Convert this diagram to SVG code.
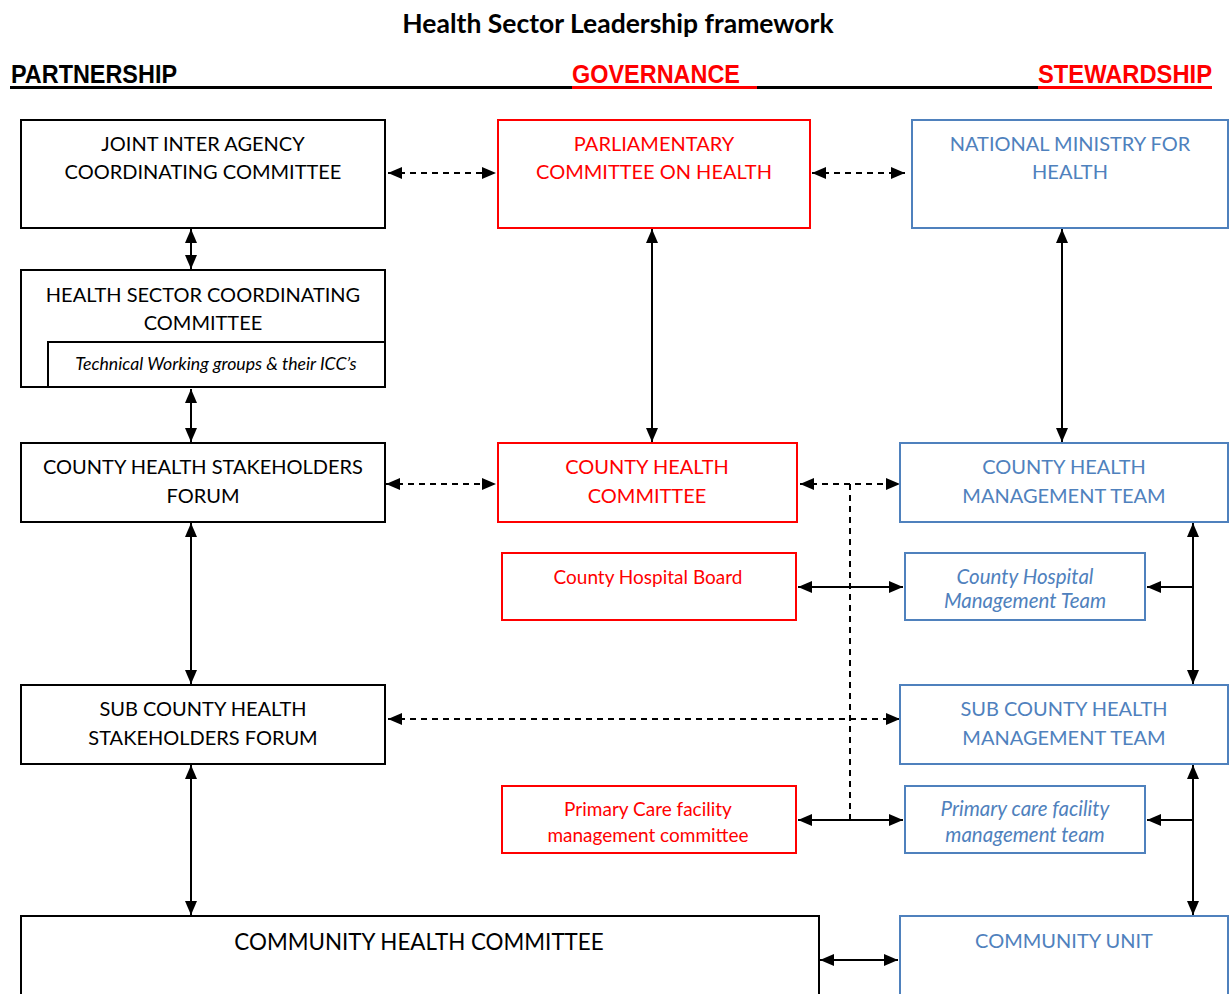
<svg xmlns="http://www.w3.org/2000/svg" width="1229" height="994" viewBox="0 0 1229 994">
<style>
text{font-family:Lato,"Liberation Sans",sans-serif;text-anchor:middle}
.t{font-size:20px}
.s{font-size:19px}
.si{font-size:20.5px;font-style:italic}
.i{font-style:italic}
.k{fill:#000}
.r{fill:#FF0000}
.b{fill:#4F81BD}
.bk{fill:#fff;stroke:#000;stroke-width:2}
.br{fill:#fff;stroke:#FF0000;stroke-width:2}
.bb{fill:#fff;stroke:#4F81BD;stroke-width:2}
.c{stroke:#000;stroke-width:2;fill:none}
.d{stroke-dasharray:6 5}
.h{font-family:"Liberation Sans",sans-serif;font-weight:bold;font-size:25px;text-anchor:start}
</style>
<defs>
<marker id="a" viewBox="0 0 14 12" refX="14" refY="6" markerWidth="14" markerHeight="12" markerUnits="userSpaceOnUse" orient="auto-start-reverse"><path d="M0,0L14,6L0,12z" fill="#000"/></marker>
</defs>
<rect width="1229" height="994" fill="#fff"/>
<text x="618" y="33" style="font-family:Lato,'Liberation Sans',sans-serif;font-weight:bold;font-size:26.5px">Health Sector Leadership framework</text>
<g id="header">
<text x="11" y="83" class="h k" textLength="166" lengthAdjust="spacingAndGlyphs">PARTNERSHIP</text>
<text x="572" y="83" class="h r" textLength="168" lengthAdjust="spacingAndGlyphs">GOVERNANCE</text>
<text x="1038" y="83" class="h r" textLength="174" lengthAdjust="spacingAndGlyphs">STEWARDSHIP</text>
<rect x="10" y="86" width="562" height="3" fill="#000"/>
<rect x="572" y="86" width="185" height="3" fill="#FF0000"/>
<rect x="757" y="86" width="281" height="3" fill="#000"/>
<rect x="1038" y="86" width="174" height="3" fill="#FF0000"/>
</g>
<g id="connectors">
<line class="c d" x1="388" y1="173" x2="496" y2="173" marker-start="url(#a)" marker-end="url(#a)"/>
<line class="c d" x1="812" y1="173" x2="905" y2="173" marker-start="url(#a)" marker-end="url(#a)"/>
<line class="c" x1="191" y1="229" x2="191" y2="269" marker-start="url(#a)" marker-end="url(#a)"/>
<line class="c" x1="191" y1="389" x2="191" y2="442" marker-start="url(#a)" marker-end="url(#a)"/>
<line class="c" x1="652" y1="229" x2="652" y2="442" marker-start="url(#a)" marker-end="url(#a)"/>
<line class="c" x1="1062" y1="229" x2="1062" y2="442" marker-start="url(#a)" marker-end="url(#a)"/>
<line class="c d" x1="386" y1="484" x2="496" y2="484" marker-start="url(#a)" marker-end="url(#a)"/>
<line class="c d" x1="800" y1="484" x2="900" y2="484" marker-start="url(#a)" marker-end="url(#a)"/>
<line class="c d" x1="850" y1="484" x2="850" y2="820"/>
<line class="c" x1="798" y1="587" x2="903" y2="587" marker-start="url(#a)" marker-end="url(#a)"/>
<line class="c" x1="1193" y1="523" x2="1193" y2="684" marker-start="url(#a)" marker-end="url(#a)"/>
<line class="c" x1="1193" y1="587" x2="1147" y2="587" marker-end="url(#a)"/>
<line class="c" x1="191" y1="523" x2="191" y2="684" marker-start="url(#a)" marker-end="url(#a)"/>
<line class="c d" x1="388" y1="719" x2="900" y2="719" marker-start="url(#a)" marker-end="url(#a)"/>
<line class="c" x1="1193" y1="765" x2="1193" y2="915" marker-start="url(#a)" marker-end="url(#a)"/>
<line class="c" x1="1193" y1="820" x2="1147" y2="820" marker-end="url(#a)"/>
<line class="c" x1="798" y1="820" x2="903" y2="820" marker-start="url(#a)" marker-end="url(#a)"/>
<line class="c" x1="191" y1="765" x2="191" y2="915" marker-start="url(#a)" marker-end="url(#a)"/>
<line class="c" x1="820" y1="960" x2="898" y2="960" marker-start="url(#a)" marker-end="url(#a)"/>
</g>
<g id="jiacc"><rect class="bk" x="21" y="120" width="364" height="108"/><text class="t k" x="203" y="151">JOINT INTER AGENCY</text><text class="t k" x="203" y="179">COORDINATING COMMITTEE</text></g>
<g id="pch"><rect class="br" x="498" y="120" width="312" height="108"/><text class="t r" x="654" y="151">PARLIAMENTARY</text><text class="t r" x="654" y="179">COMMITTEE ON HEALTH</text></g>
<g id="nmh"><rect class="bb" x="912" y="120" width="316" height="108"/><text class="t b" x="1070" y="151">NATIONAL MINISTRY FOR</text><text class="t b" x="1070" y="179">HEALTH</text></g>
<g id="hscc"><rect class="bk" x="21" y="270" width="364" height="117"/><text class="t k" x="203" y="302">HEALTH SECTOR COORDINATING</text><text class="t k" x="203" y="330">COMMITTEE</text>
<rect class="bk" x="48" y="342" width="337" height="45"/><text class="k i" style="font-size:17.7px" x="216" y="370">Technical Working groups &amp; their ICC’s</text></g>
<g id="chsf"><rect class="bk" x="21" y="443" width="364" height="79"/><text class="t k" x="203" y="474">COUNTY HEALTH STAKEHOLDERS</text><text class="t k" x="203" y="503">FORUM</text></g>
<g id="chc"><rect class="br" x="498" y="443" width="299" height="79"/><text class="t r" x="647" y="474">COUNTY HEALTH</text><text class="t r" x="647" y="503">COMMITTEE</text></g>
<g id="chmt"><rect class="bb" x="900" y="443" width="328" height="79"/><text class="t b" x="1064" y="474">COUNTY HEALTH</text><text class="t b" x="1064" y="503">MANAGEMENT TEAM</text></g>
<g id="chb"><rect class="br" x="502" y="553" width="294" height="67"/><text class="s r" x="648" y="584">County Hospital Board</text></g>
<g id="chmgt"><rect class="bb" x="905" y="553" width="240" height="67"/><text class="si b" x="1025" y="584">County Hospital</text><text class="si b" x="1025" y="608">Management Team</text></g>
<g id="schsf"><rect class="bk" x="21" y="685" width="364" height="79"/><text class="t k" x="203" y="716">SUB COUNTY HEALTH</text><text class="t k" x="203" y="745">STAKEHOLDERS FORUM</text></g>
<g id="schmt"><rect class="bb" x="900" y="685" width="328" height="79"/><text class="t b" x="1064" y="716">SUB COUNTY HEALTH</text><text class="t b" x="1064" y="745">MANAGEMENT TEAM</text></g>
<g id="pcfmc"><rect class="br" x="502" y="786" width="294" height="67"/><text class="s r" x="648" y="816">Primary Care facility</text><text class="s r" x="648" y="842">management committee</text></g>
<g id="pcfmt"><rect class="bb" x="905" y="786" width="240" height="67"/><text class="si b" x="1025" y="816">Primary care facility</text><text class="si b" x="1025" y="842">management team</text></g>
<g id="chcomm"><rect class="bk" x="21" y="916" width="798" height="90"/><text class="k" style="font-size:22.4px" x="419" y="950">COMMUNITY HEALTH COMMITTEE</text></g>
<g id="cu"><rect class="bb" x="900" y="916" width="328" height="90"/><text class="t b" x="1064" y="948">COMMUNITY UNIT</text></g>
</svg>
